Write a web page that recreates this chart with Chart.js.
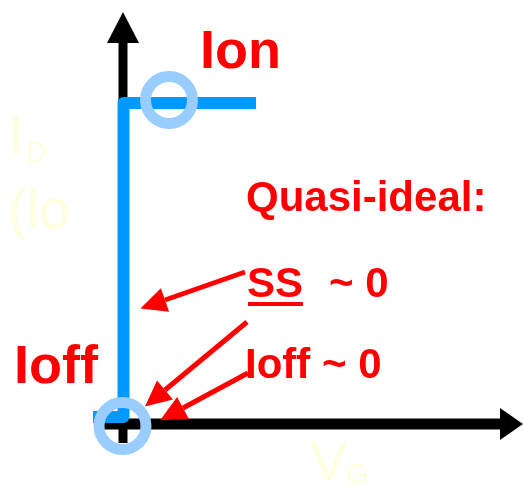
<!DOCTYPE html>
<html>
<head>
<meta charset="utf-8">
<script src="https://cdn.jsdelivr.net/npm/chart.js@4"></script>
<style>
  html, body { margin: 0; padding: 0; background: #ffffff; }
  #chart { display: block; }
</style>
</head>
<body>
<canvas id="chart" width="523" height="486"></canvas>
<script>
// Schematic Id-Vg of a quasi-ideal switch (origin = axes crossing)
const axisY = [{ x: 0, y: -19 }, { x: 0, y: 381 }];
const axisX = [{ x: -23, y: 0 }, { x: 377, y: 0 }];
const switchCurve = [{ x: -30, y: 7 }, { x: 0.5, y: 7 }, { x: 0.5, y: 321 }, { x: 133, y: 321 }];
const markers = [{ x: 46, y: 324 }, { x: -0.5, y: -2 }];
const arrowSS = [{ x: 122, y: 152 }, { x: 42, y: 124 }];
const arrowIoff1 = [{ x: 124, y: 102 }, { x: 42, y: 34 }];
const arrowIoff2 = [{ x: 125, y: 51 }, { x: 60, y: 16 }];

const RED = '#ff0000';
const PALE = '#ffffe0';
const BOLD = 'bold 54px "Liberation Sans", Arial, sans-serif';
const BOLD_SM = 'bold 42px "Liberation Sans", Arial, sans-serif';
const REG = '56px "Liberation Sans", Arial, sans-serif';
const REG_SUB = '29px "Liberation Sans", Arial, sans-serif';

const labels = [
    { text: 'I', x: -115, y: 270, font: REG, color: PALE },
    { text: 'D', x: -97, y: 262, font: REG_SUB, color: PALE },
    { text: '(lo', x: -115, y: 196, font: REG, color: PALE },
    { text: 'V', x: 187, y: -56, font: REG, color: PALE },
    { text: 'G', x: 223, y: -60, font: REG_SUB, color: PALE },
    { text: 'Ion', x: 77, y: 356, font: BOLD, color: RED },
    { text: 'Ioff', x: -109, y: 41, font: BOLD, color: RED },
    { text: 'Quasi-ideal:', x: 123, y: 213, font: BOLD_SM, color: RED },
    { text: 'SS', x: 124, y: 127, font: BOLD_SM, color: RED, underline: true },
    { text: '~ 0', x: 206, y: 127, font: BOLD_SM, color: RED },
    { text: 'Ioff ~ 0', x: 122, y: 46, font: BOLD_SM, color: RED }
];

// draws an arrow head beyond the last point of a dataset
const arrowHeads = {
    id: 'arrowHeads',
    afterDatasetDraw(chart, args) {
        const ds = chart.data.datasets[args.index];
        if (!ds.arrowHead) return;
        const pts = args.meta.data;
        const a = pts[pts.length - 2], b = pts[pts.length - 1];
        const dx = b.x - a.x, dy = b.y - a.y;
        const len = Math.hypot(dx, dy);
        const ux = dx / len, uy = dy / len;
        const L = ds.arrowHead.length, W = ds.arrowHead.width / 2;
        const ctx = chart.ctx;
        ctx.save();
        ctx.fillStyle = ds.borderColor;
        ctx.beginPath();
        ctx.moveTo(b.x + ux * L, b.y + uy * L);
        ctx.lineTo(b.x - uy * W, b.y + ux * W);
        ctx.lineTo(b.x + uy * W, b.y - ux * W);
        ctx.closePath();
        ctx.fill();
        ctx.restore();
    }
};

const textLabels = {
    id: 'textLabels',
    afterDraw(chart) {
        const ctx = chart.ctx;
        const sx = chart.scales.x, sy = chart.scales.y;
        ctx.save();
        ctx.textBaseline = 'alphabetic';
        ctx.textAlign = 'left';
        labels.forEach(l => {
            const px = sx.getPixelForValue(l.x);
            const py = sy.getPixelForValue(l.y);
            ctx.font = l.font;
            ctx.fillStyle = l.color;
            ctx.fillText(l.text, px, py);
            if (l.underline) {
                const w = ctx.measureText(l.text).width;
                ctx.fillRect(px + 1, py + 5, w - 1, 4);
            }
        });
        ctx.restore();
    }
};

function lineSet(data, color, width, order, head) {
    return {
        type: 'line',
        data: data,
        borderColor: color,
        borderWidth: width,
        borderCapStyle: 'butt',
        borderJoinStyle: 'round',
        pointRadius: 0,
        fill: false,
        tension: 0,
        order: order,
        arrowHead: head
    };
}

new Chart(document.getElementById('chart'), {
    data: {
        datasets: [
            lineSet(arrowSS, RED, 5, 1, { length: 26, width: 25 }),
            lineSet(arrowIoff1, RED, 5, 1, { length: 26, width: 25 }),
            lineSet(arrowIoff2, RED, 5, 1, { length: 26, width: 25 }),
            {
                type: 'scatter',
                data: markers,
                pointStyle: 'circle',
                pointRadius: 23.5,
                pointHoverRadius: 23.5,
                pointBorderWidth: 11,
                pointBorderColor: '#99ccff',
                pointBackgroundColor: 'rgba(0,0,0,0)',
                order: 2
            },
            lineSet(switchCurve, '#0099ff', 12, 3),
            lineSet(axisX, '#000000', 11, 4, { length: 23, width: 32 }),
            lineSet(axisY, '#000000', 9, 4, { length: 31, width: 32 })
        ]
    },
    options: {
        responsive: false,
        animation: false,
        devicePixelRatio: 1,
        clip: false,
        layout: { padding: 0, autoPadding: false },
        events: [],
        plugins: {
            legend: { display: false },
            tooltip: { enabled: false }
        },
        scales: {
            x: { type: 'linear', display: false, min: -123, max: 400 },
            y: { type: 'linear', display: false, min: -62, max: 424 }
        }
    },
    plugins: [arrowHeads, textLabels]
});
</script>
</body>
</html>
